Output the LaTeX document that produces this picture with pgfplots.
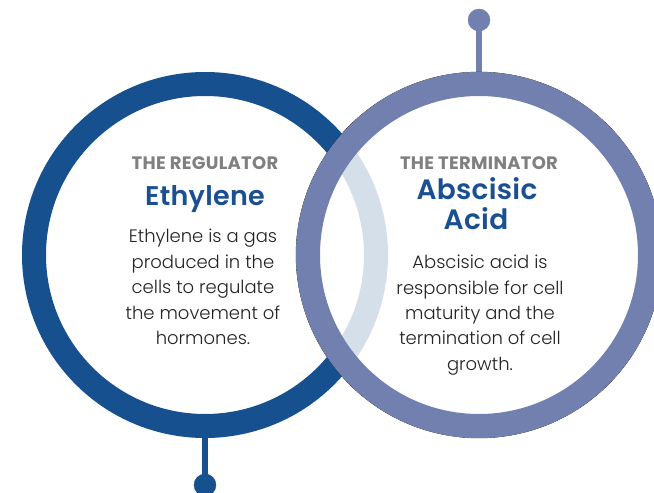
\documentclass[border=0pt]{standalone}
\usepackage{pgfplots}
\pgfplotsset{compat=1.18}
\usepackage{fontspec}
\setmainfont{Poppins Light}
\newfontfamily\headfont{Poppins Bold}[LetterSpace=1.5]
\newfontfamily\titlefont{Poppins SemiBold}[LetterSpace=1]
\definecolor{darkring}{RGB}{22,80,143}
\definecolor{periring}{RGB}{114,128,176}
\definecolor{headgray}{RGB}{128,128,128}
\definecolor{titleblue}{RGB}{26,80,145}
\definecolor{bodytext}{RGB}{35,35,35}
\begin{document}
\begin{tikzpicture}
\begin{axis}[
  width=654pt, height=493pt, scale only axis,
  xmin=0, xmax=654, ymin=0, ymax=493,
  axis lines=none, clip=false,
]
% left ring (The Regulator)
\addplot[darkring, line width=6pt] coordinates {(205,8) (205,60)};
\addplot[only marks, mark=*, mark size=11pt, darkring] coordinates {(205,8)};
\addplot[only marks, mark=o, mark size=171pt, line width=24pt, darkring] coordinates {(205,238)};
% right disk: translucent white wash over the left ring
\addplot[only marks, mark=*, mark size=183pt, mark options={draw=none, fill=white, fill opacity=0.82}] coordinates {(479,238)};
% right ring (The Terminator)
\addplot[periring, line width=6pt] coordinates {(479,473) (479,418)};
\addplot[only marks, mark=*, mark size=11pt, periring] coordinates {(479,473)};
\addplot[only marks, mark=o, mark size=171pt, line width=24pt, periring] coordinates {(479,238)};

% anchor points for the texts (drawn after the axis, above the wash)
\coordinate (LH) at (axis cs:205,323);
\coordinate (LT) at (axis cs:205,287);
\coordinate (L1) at (axis cs:203,250);
\coordinate (L2) at (axis cs:203,224);
\coordinate (L3) at (axis cs:203,199);
\coordinate (L4) at (axis cs:203,173);
\coordinate (L5) at (axis cs:203,148);
\coordinate (RH) at (axis cs:479,323);
\coordinate (RT1) at (axis cs:477,293);
\coordinate (RT2) at (axis cs:476,263);
\coordinate (R1) at (axis cs:480,224);
\coordinate (R2) at (axis cs:480,198);
\coordinate (R3) at (axis cs:480,173);
\coordinate (R4) at (axis cs:480,148);
\coordinate (R5) at (axis cs:480,122);
\end{axis}
\begin{scope}[every node/.style={anchor=base}]
\node[text=headgray, font=\headfont\fontsize{18}{21}\selectfont] at (LH) {THE REGULATOR};
\node[text=titleblue, font=\titlefont\fontsize{27}{32}\selectfont] at (LT) {Ethylene};
\node[text=headgray, font=\headfont\fontsize{18}{21}\selectfont] at (RH) {THE TERMINATOR};
\node[text=titleblue, font=\titlefont\fontsize{28}{33}\selectfont] at (RT1) {Abscisic};
\node[text=titleblue, font=\titlefont\fontsize{28}{33}\selectfont] at (RT2) {Acid};
\end{scope}
\begin{scope}[every node/.style={anchor=base, text=bodytext, font=\fontsize{18}{21}\selectfont}]
\node at (L1) {Ethylene is a gas};
\node at (L2) {produced in the};
\node at (L3) {cells to regulate};
\node at (L4) {the movement of};
\node at (L5) {hormones.};
\node at (R1) {Abscisic acid is};
\node at (R2) {responsible for cell};
\node at (R3) {maturity and the};
\node at (R4) {termination of cell};
\node at (R5) {growth.};
\end{scope}
\pgfresetboundingbox
\useasboundingbox (0,0) rectangle (654pt,493pt);
\end{tikzpicture}
\end{document}
